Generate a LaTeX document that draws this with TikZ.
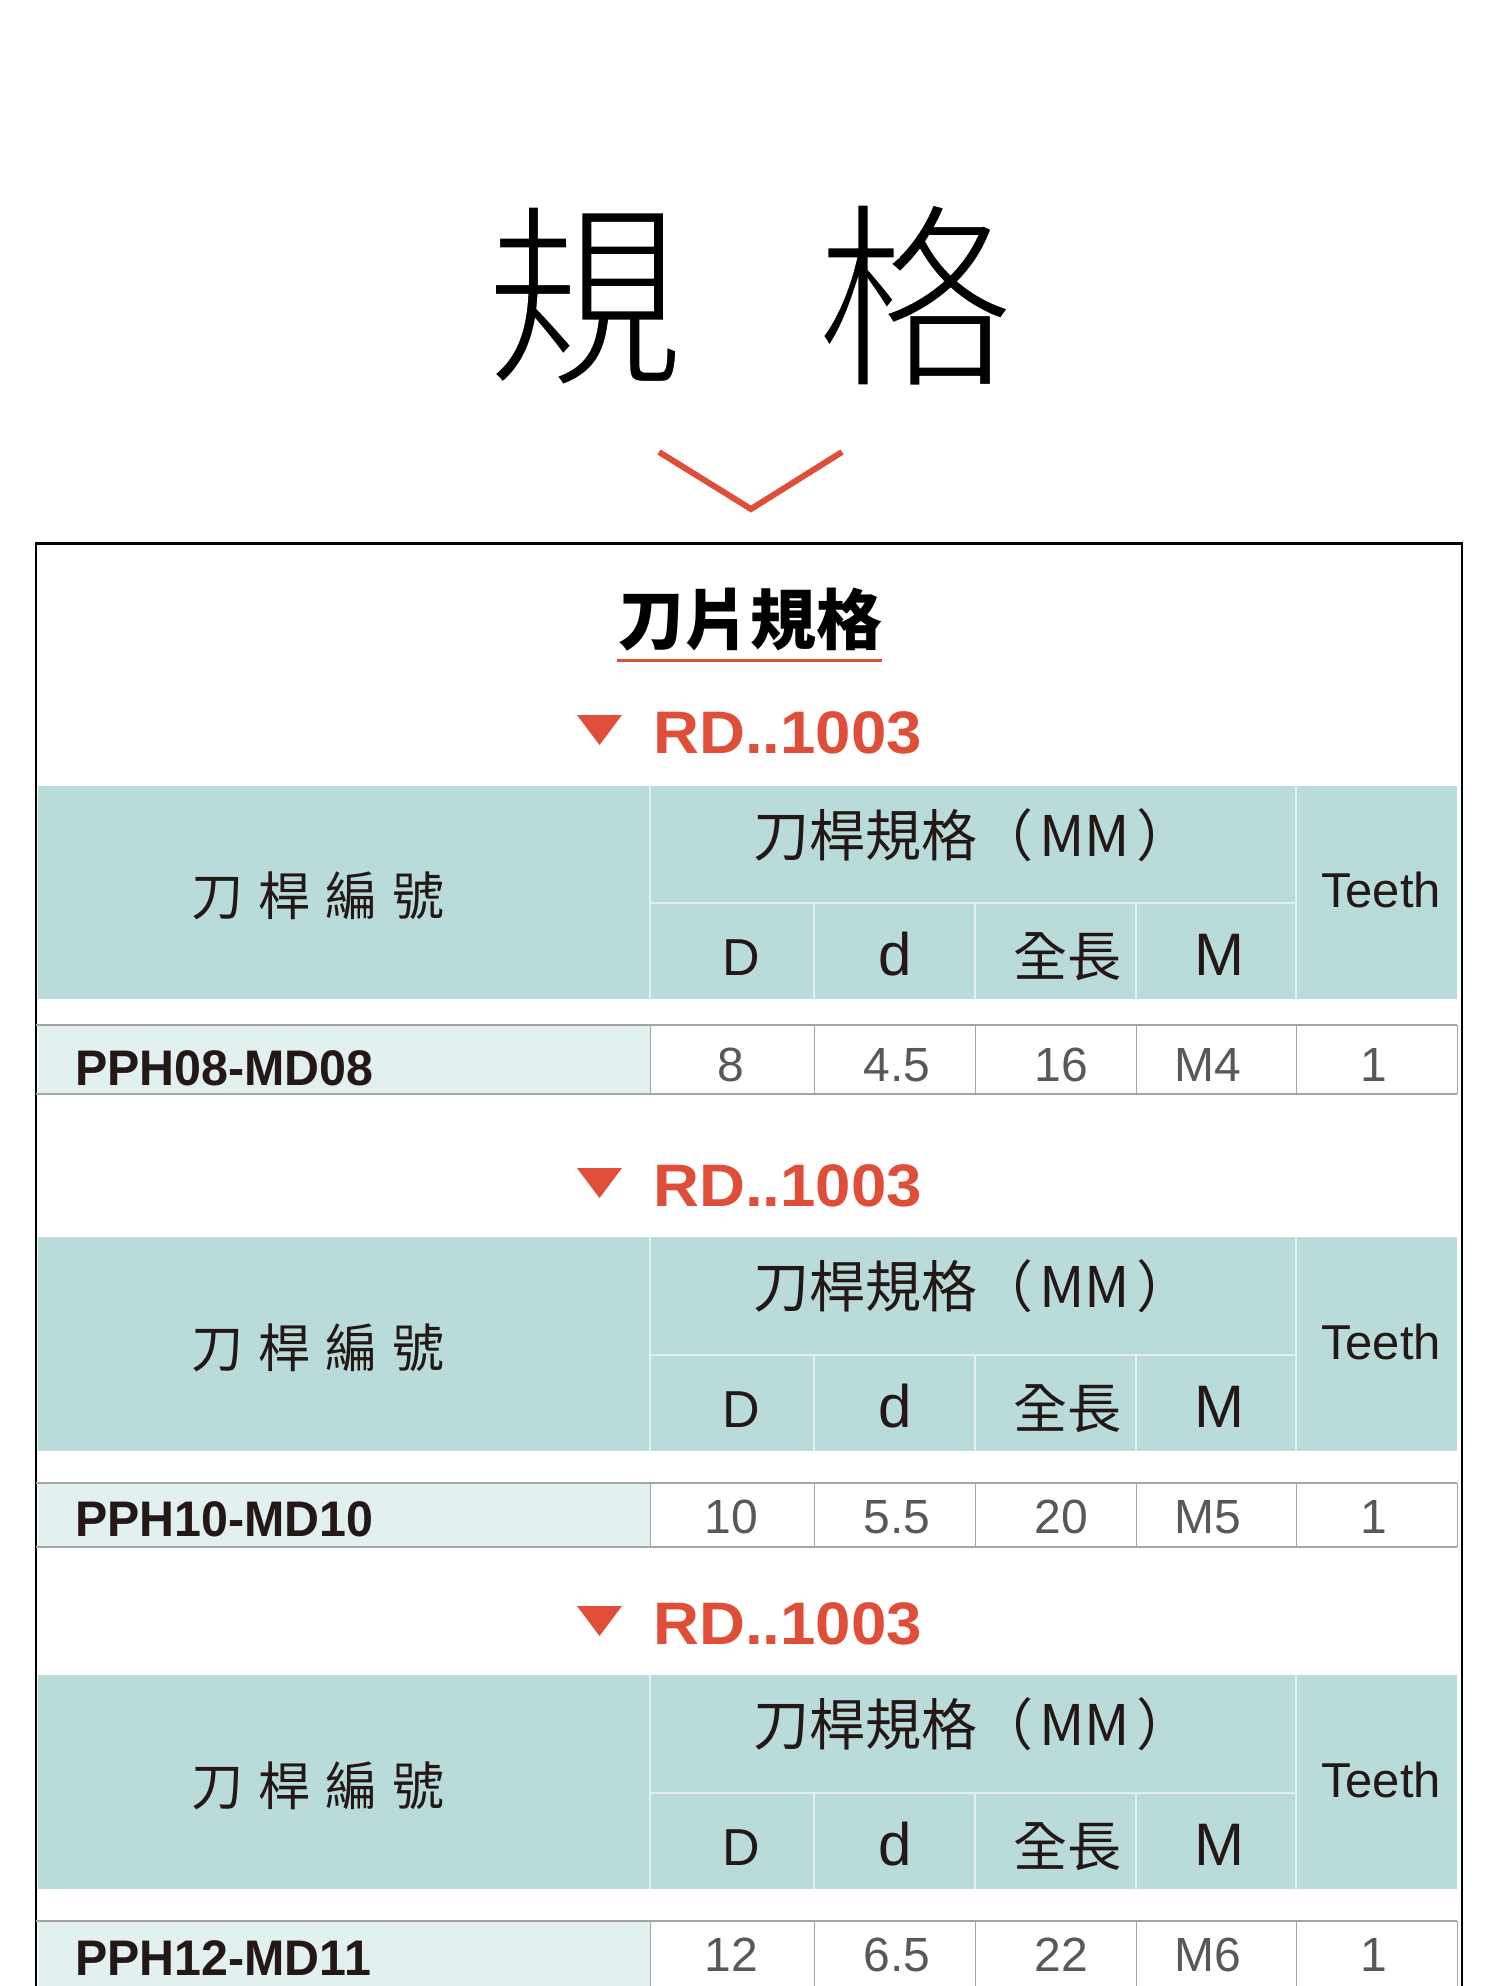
\documentclass[tikz,border=0pt]{standalone}
\usepackage{fontspec}
\usepackage{tikz}
\setmainfont{Liberation Sans}
\newfontfamily\cjk{Noto Sans CJK TC}
\definecolor{specred}{RGB}{222,78,57}
\definecolor{headteal}{RGB}{185,219,218}
\definecolor{cellteal}{RGB}{226,240,240}
\definecolor{inkblack}{RGB}{35,24,21}
\definecolor{valgrey}{RGB}{88,88,88}
\definecolor{gridgrey}{RGB}{165,165,165}
\definecolor{headline}{RGB}{226,240,239}

\begin{document}
\begin{tikzpicture}[x=0.5pt, y=-0.5pt, every node/.style={inner sep=0pt, anchor=base},
	headtxt/.style={font=\cjk\fontsize{26}{30}\selectfont, text=inkblack},
	spectxt/.style={font=\cjk\fontsize{28}{30}\selectfont, text=inkblack, anchor=base west},
	lentxt/.style={font=\cjk\fontsize{27}{30}\selectfont, text=inkblack},
	coltxt/.style={font=\fontsize{26}{30}\selectfont, text=inkblack},
	bigcol/.style={font=\fontsize{30}{34}\selectfont, text=inkblack},
	teethtxt/.style={font=\fontsize{24.5}{28}\selectfont, text=inkblack},
	valtxt/.style={font=\fontsize{24}{28}\selectfont, text=valgrey},
	codetxt/.style={font=\bfseries\fontsize{25}{28}\selectfont, text=inkblack, anchor=base west},
	rdtxt/.style={font=\bfseries\fontsize{30}{34}\selectfont, text=specred, anchor=base west},
	headgrid/.style={draw=headline, line width=1pt},
	rowgrid/.style={draw=gridgrey, line width=0.5pt},
	rowline/.style={draw=gridgrey, line width=1pt}]
			\fill[white] (0,0) rectangle (1500,1986);
			\useasboundingbox (0,0) rectangle (1500,1986);
			
			% title
			\node[font=\cjk\fontsize{100}{110}\selectfont] (title) at (750,371) {\special{pdf:literal direct 2 Tr 1 G 2.5 w}\spaceskip=65.5pt\relax 規 格\special{pdf:literal direct 0 Tr 0 G 1 w}};
			\draw[specred, line width=3pt] (659,452) -- (751,509) -- (842,452);
			\draw[black, line width=1.3pt] (36,1995) -- (36,543.5) -- (1462,543.5) -- (1462,1995);
			\node[font=\cjk\bfseries\fontsize{33}{36}\selectfont, text=black] (blade) at (750,644) {刀片規格};
			\draw[specred, line width=1.5pt] (617,660) -- (882,660);
			
			% block 1
			\fill[specred] (577,715) -- (622,715) -- (599.5,745) -- cycle;
			\node[rdtxt] (rd1) at (653,753) {\scalebox{1.06}[1]{RD..1003}};
			\fill[headteal] (38,786) rectangle (1457,999);
			\draw[headgrid] (650,786) -- (650,999) (1296,786) -- (1296,999) (650,903) -- (1296,903);
			\draw[headgrid] (814,903) -- (814,999) (975,903) -- (975,999) (1136,903) -- (1136,999);
			\node[headtxt] (no1) at (318,915) {\spaceskip=7.5pt\relax 刀 桿 編 號};
			\node[spectxt] (spec1) at (753,856) {刀桿規格（\hspace{3pt}MM\hspace{3pt}）};
			\node[teethtxt] (teeth1) at (1381,907) {Teeth};
			\node[coltxt] (D1) at (741,975) {D};
			\node[bigcol] (d1) at (895,975) {d};
			\node[lentxt] (L1) at (1067,976) {全長};
			\node[bigcol] (M1) at (1219,975) {M};
			\fill[cellteal] (38,1025) rectangle (650,1094);
			\draw[rowgrid] (650,1025) -- (650,1094) (814,1025) -- (814,1094) (975,1025) -- (975,1094);
			\draw[rowgrid] (1136,1025) -- (1136,1094) (1296,1025) -- (1296,1094) (1457,1025) -- (1457,1094);
			\draw[rowline] (36,1025) -- (1457,1025) (36,1094) -- (1457,1094);
			\node[codetxt] (code1) at (75,1085) {\scalebox{0.967}[1]{PPH08-MD08}};
			\node[valtxt] (vD1) at (731,1081) {8};
			\node[valtxt] (vd1) at (897,1081) {4.5};
			\node[valtxt] (vL1) at (1061,1081) {16};
			\node[valtxt] (vM1) at (1208,1081) {M4};
			\node[valtxt] (vT1) at (1374,1081) {1};
			
			% block 2
			\fill[specred] (577,1168) -- (622,1168) -- (599.5,1198) -- cycle;
			\node[rdtxt] (rd2) at (653,1206) {\scalebox{1.06}[1]{RD..1003}};
			\fill[headteal] (38,1237) rectangle (1457,1451);
			\draw[headgrid] (650,1237) -- (650,1451) (1296,1237) -- (1296,1451) (650,1355) -- (1296,1355);
			\draw[headgrid] (814,1355) -- (814,1451) (975,1355) -- (975,1451) (1136,1355) -- (1136,1451);
			\node[headtxt] (no2) at (318,1367) {\spaceskip=7.5pt\relax 刀 桿 編 號};
			\node[spectxt] (spec2) at (753,1307) {刀桿規格（\hspace{3pt}MM\hspace{3pt}）};
			\node[teethtxt] (teeth2) at (1381,1359) {Teeth};
			\node[coltxt] (D2) at (741,1427) {D};
			\node[bigcol] (d2) at (895,1427) {d};
			\node[lentxt] (L2) at (1067,1428) {全長};
			\node[bigcol] (M2) at (1219,1427) {M};
			\fill[cellteal] (38,1483) rectangle (650,1547);
			\draw[rowgrid] (650,1483) -- (650,1547) (814,1483) -- (814,1547) (975,1483) -- (975,1547);
			\draw[rowgrid] (1136,1483) -- (1136,1547) (1296,1483) -- (1296,1547) (1457,1483) -- (1457,1547);
			\draw[rowline] (36,1483) -- (1457,1483) (36,1547) -- (1457,1547);
			\node[codetxt] (code2) at (75,1536) {\scalebox{0.967}[1]{PPH10-MD10}};
			\node[valtxt] (vD2) at (731,1533) {10};
			\node[valtxt] (vd2) at (897,1533) {5.5};
			\node[valtxt] (vL2) at (1061,1533) {20};
			\node[valtxt] (vM2) at (1208,1533) {M5};
			\node[valtxt] (vT2) at (1374,1533) {1};
			
			% block 3
			\fill[specred] (577,1606) -- (622,1606) -- (599.5,1636) -- cycle;
			\node[rdtxt] (rd3) at (653,1644) {\scalebox{1.06}[1]{RD..1003}};
			\fill[headteal] (38,1675) rectangle (1457,1889);
			\draw[headgrid] (650,1675) -- (650,1889) (1296,1675) -- (1296,1889) (650,1793) -- (1296,1793);
			\draw[headgrid] (814,1793) -- (814,1889) (975,1793) -- (975,1889) (1136,1793) -- (1136,1889);
			\node[headtxt] (no3) at (318,1805) {\spaceskip=7.5pt\relax 刀 桿 編 號};
			\node[spectxt] (spec3) at (753,1745) {刀桿規格（\hspace{3pt}MM\hspace{3pt}）};
			\node[teethtxt] (teeth3) at (1381,1797) {Teeth};
			\node[coltxt] (D3) at (741,1865) {D};
			\node[bigcol] (d3) at (895,1865) {d};
			\node[lentxt] (L3) at (1067,1866) {全長};
			\node[bigcol] (M3) at (1219,1865) {M};
			\fill[cellteal] (38,1921) rectangle (650,1990);
			\draw[rowgrid] (650,1921) -- (650,1990) (814,1921) -- (814,1990) (975,1921) -- (975,1990);
			\draw[rowgrid] (1136,1921) -- (1136,1990) (1296,1921) -- (1296,1990) (1457,1921) -- (1457,1990);
			\draw[rowline] (36,1921) -- (1457,1921);
			\node[codetxt] (code3) at (75,1975) {\scalebox{0.967}[1]{PPH12-MD11}};
			\node[valtxt] (vD3) at (731,1971) {12};
			\node[valtxt] (vd3) at (897,1971) {6.5};
			\node[valtxt] (vL3) at (1061,1971) {22};
			\node[valtxt] (vM3) at (1208,1971) {M6};
			\node[valtxt] (vT3) at (1374,1971) {1};
\end{tikzpicture}
\end{document}
